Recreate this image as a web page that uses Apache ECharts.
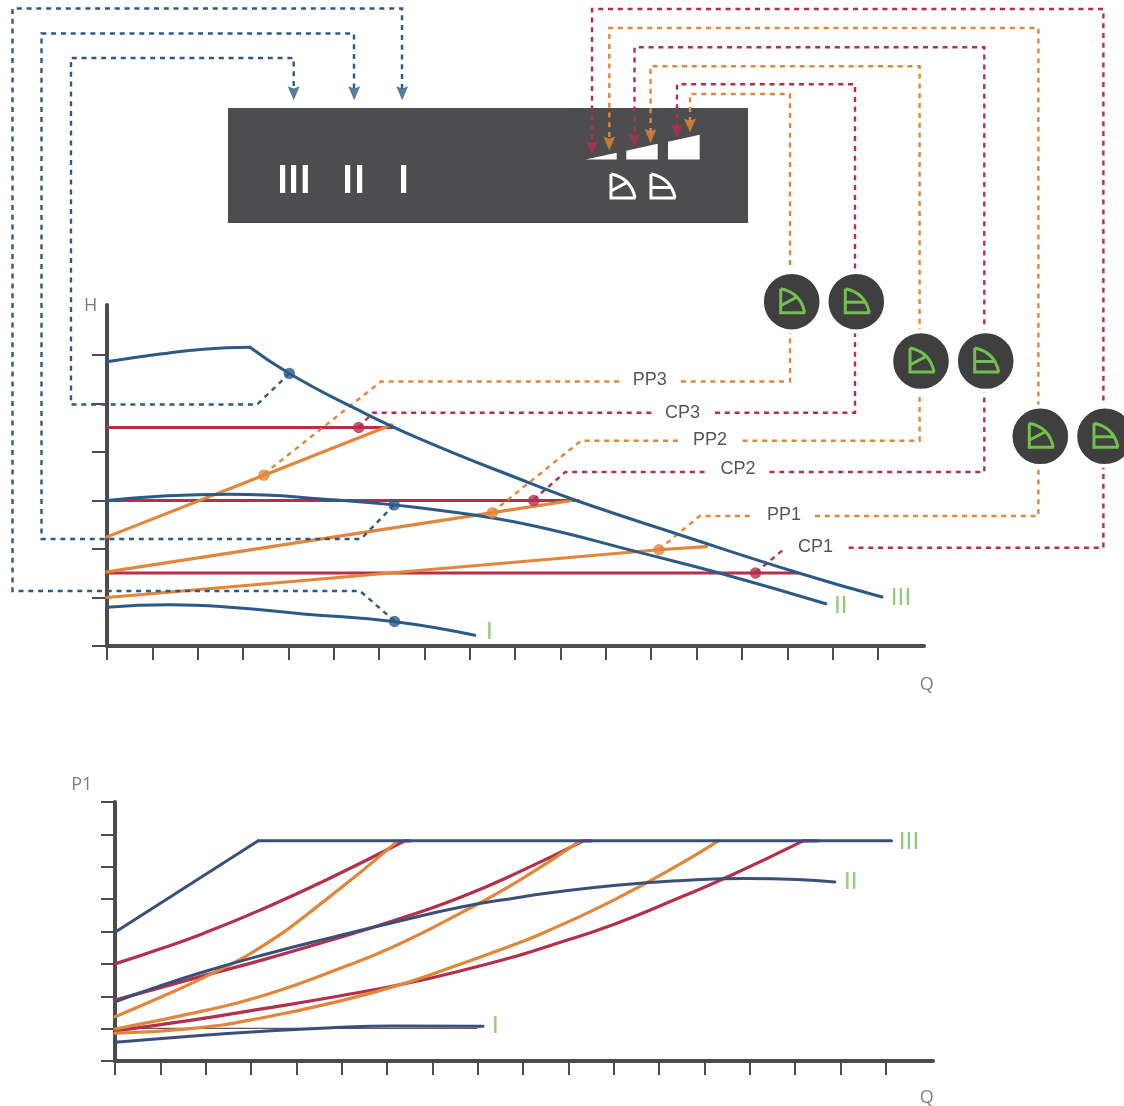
<!DOCTYPE html>
<html>
<head>
<meta charset="utf-8">
<style>html,body{margin:0;padding:0;background:#fff}#c{width:1124px;height:1106px}</style>
<script src="https://cdn.jsdelivr.net/npm/echarts@6/dist/echarts.min.js"></script>
</head>
<body>
<div id="c"></div>
<script>
// ---- H(Q) chart values (axis units) ----
const hTicksQ = [0,1,2,3,4,5,6,7,8,9,10,11,12,13,14,15,16,17];
const hTicksH = [0,1,2,3,4,5,6];
const hIIIFlat = [[0,5.86],[1.17,6.02],[2.12,6.12],[3.15,6.16]];
const hIIIDrop = [[3.15,6.16],[4.02,5.62],[5.36,4.95],[6.90,4.27],[9.35,3.35],[10.41,2.98],[12.54,2.32],[15.27,1.50],[17.09,1.01]];
const hII = [[0,3.00],[1.17,3.09],[2.71,3.13],[5.07,3.01],[6.33,2.91],[8.02,2.71],[9.50,2.46],[11.78,1.92],[13.52,1.50],[15.85,0.87]];
const hI = [[0,0.80],[1.39,0.85],[2.86,0.79],[4.32,0.66],[6.35,0.50],[8.11,0.22]];
const hCP3 = [[0,4.505],[6.35,4.505]];
const hCP2 = [[0,3.0],[10.39,3.0]];
const hCP1 = [[0,1.505],[15.24,1.505]];
const hPP3 = [[0,2.25],[3.46,3.52],[6.28,4.56]];
const hPP2 = [[0,1.53],[8.50,2.75],[10.25,3.0]];
const hPP1 = [[0,1.0],[12.17,1.985],[13.22,2.05]];
const hBluePoints = [[4.02,5.62],[6.33,2.91],[6.34,0.505]];
const hRedPoints = [[5.55,4.505],[9.41,3.0],[14.30,1.505]];
const hOrangePoints = [[3.46,3.52],[8.50,2.75],[12.17,1.985]];

// ---- P1(Q) chart values (axis units) ----
const pTicksQ = [0,1,2,3,4,5,6,7,8,9,10,11,12,13,14,15,16,17];
const pTicksP = [0,1,2,3,4,5,6,7,8];
const pIIIRise = [[0,3.98],[3.16,6.80]];
const pIIIFlat = [[3.16,6.80],[17.13,6.80]];
const pII = [[0,1.83],[0.99,2.32],[2.02,2.78],[3.2,3.25],[4.67,3.78],[6.14,4.28],[7.61,4.75],[8.93,5.06],[9.52,5.18],[11.0,5.42],[12.46,5.57],[13.94,5.64],[15.04,5.61],[15.88,5.53]];
const pI = [[0,0.58],[1.73,0.77],[3.2,0.91],[4.67,1.02],[6.14,1.08],[8.12,1.07]];
const pThin = [[0,1.01],[7.99,1.01]];
const pCP3 = [[0,3.0],[0.99,3.46],[1.95,3.94],[3.2,4.66],[4.67,5.60],[6.36,6.78]];
const pCP3End = [[6.36,6.80],[6.51,6.80]];
const pPP3 = [[0,1.37],[0.99,1.96],[2.02,2.62],[3.2,3.50],[4.67,5.0],[6.24,6.80]];
const pCP2 = [[0,1.88],[2.02,2.66],[3.2,3.10],[4.67,3.70],[6.14,4.33],[7.61,5.05],[8.93,5.85],[10.33,6.80]];
const pCP2End = [[10.33,6.80],[10.52,6.80]];
const pPP2 = [[0,0.99],[1.95,1.55],[3.2,1.99],[4.96,2.86],[6.14,3.53],[7.61,4.56],[8.93,5.59],[10.26,6.80]];
const pCP1 = [[0,0.93],[1.73,1.27],[3.2,1.60],[5.04,2.03],[6.44,2.40],[7.61,2.78],[8.93,3.27],[9.52,3.53],[11.0,4.22],[12.46,5.05],[13.57,5.72],[15.18,6.80]];
const pCP1End = [[15.18,6.80],[15.5,6.80]];
const pPP1 = [[0,0.86],[1.73,1.01],[3.2,1.32],[5.04,1.88],[6.44,2.42],[7.61,2.99],[8.93,3.66],[9.52,4.0],[11.0,4.97],[12.46,6.08],[13.31,6.80]];

// ---- annotation routes on the page ----
const routeBlueI = [[394.5,621],[360,591],[12.5,591],[12.5,8.5],[402,8.5],[402,90]];
const routeBlueII = [[394,505],[361,539],[41.5,539],[41.5,33.5],[354,33.5],[354,90]];
const routeBlueIII = [[289.5,373.5],[257,404.5],[71,404.5],[71,58],[293.7,58],[293.7,90]];
const routePP3a = [[264,474],[381,381.5],[619,381.5]];
const routePP3b = [[681,381.5],[790,381.5],[790,94],[690,94],[690,122]];
const routeCP3a = [[358.5,427.5],[373,412.7],[653,412.7]];
const routeCP3b = [[715,412.7],[855,412.7],[855,84.3],[677,84.3],[677,128]];
const routePP2a = [[492.3,512.3],[581,440.7],[680.6,440.7]];
const routePP2b = [[742.6,440.7],[919.6,440.7],[919.6,66.3],[650.6,66.3],[650.6,133]];
const routeCP2a = [[533.6,499.7],[565.3,472],[706.5,472]];
const routeCP2b = [[769.5,472],[984.3,472],[984.3,47.3],[634.5,47.3],[634.5,137]];
const routePP1a = [[659,549.7],[699.6,516],[752,516]];
const routePP1b = [[815,516],[1038.4,516],[1038.4,28],[609.3,28],[609.3,140]];
const routeCP1a = [[755.7,572.7],[785.7,547.7]];
const routeCP1b = [[848.7,547.7],[1103.4,547.7],[1103.4,9],[592,9],[592,144]];
const arrowsBlue = [[293.7,93.3],[354.2,93.3],[402.2,93.3]];
const arrowsRed = [[592,148],[634.5,140.3],[677,131.3]];
const arrowsOrange = [[609.3,143.5],[650.6,136],[690,125.5]];

const routeLabels = [['PP3',649.7,380.5],['CP3',682.4,413.5],['PP2',710,440.5],['CP2',738,469.5],['PP1',784,515.5],['CP1',815.6,547.5]];
const axisLabels = [['H',90.7,305.5],['Q',926.8,684.5],['P1',81.7,784.5],['Q',926.8,1097.5]];
const curveLabels = [['I',489.5,633],['II',840.8,607],['III',901,599.5],['I',495.3,1027],['II',850.8,883],['III',909,843]];

const BLUE='#2c5a87', NAVY='#3b5079', RED='#b42f49', ORANGE='#e1863a', AXIS='#4d4b4b', GREEN='#74c04f', WHITE='#ffffff';

function line(data,color,width,xi,smooth,z){
  return {type:'line',data,xAxisIndex:xi,yAxisIndex:xi,smooth:smooth?0.5:false,showSymbol:false,symbol:'none',clip:false,silent:true,z:z||2,
    lineStyle:{color,width,cap:'round',join:'round'}};
}
function dots(data,color){
  return {type:'scatter',data,xAxisIndex:0,yAxisIndex:0,symbol:'circle',symbolSize:11.5,clip:false,silent:true,z:6,itemStyle:{color}};
}
function route(data,color){
  return {type:'line',data,xAxisIndex:2,yAxisIndex:2,showSymbol:false,symbol:'none',clip:false,silent:true,z:3,
    lineStyle:{color,width:2.4,type:[5,4.8],cap:'butt',join:'miter'}};
}
function arrows(data,color){
  return {type:'scatter',data,xAxisIndex:2,yAxisIndex:2,symbol:'path://M0 0 L5 2 L10 0 L5 13 Z',symbolSize:[12,14],clip:false,silent:true,z:4,itemStyle:{color}};
}
function texts(rows,color,size,family){
  return {type:'scatter',data:rows.map(r=>({value:[r[1],r[2]],name:r[0]})),xAxisIndex:2,yAxisIndex:2,symbolSize:0,clip:false,silent:true,z:7,
    label:{show:true,position:'inside',formatter:p=>p.name,color,fontSize:size,fontFamily:family,align:'center',verticalAlign:'middle'}};
}

function axis(common){return Object.assign({type:'value',splitLine:{show:false},axisLabel:{show:false},z:1},common);}
const axisLine={show:true,onZero:false,lineStyle:{color:AXIS,width:4,cap:'round'}};
function ticks(values,len){return {show:true,length:len,customValues:values,lineStyle:{color:AXIS,width:2}};}

const lineSeries=[
  // H chart
  line(hCP3,RED,3.2,0), line(hCP2,RED,3.2,0), line(hCP1,RED,3.2,0),
  line(hPP3,ORANGE,3.2,0), line(hPP2,ORANGE,3.2,0), line(hPP1,ORANGE,3.2,0),
  line(hI,BLUE,3,0,true,5), line(hII,BLUE,3,0,true,5), line(hIIIFlat,BLUE,3,0,true,5), line(hIIIDrop,BLUE,3,0,true,5),
  dots(hOrangePoints,ORANGE), dots(hRedPoints,RED), dots(hBluePoints,BLUE),
  // P1 chart
  line(pThin,'#333333',1,1),
  line(pCP3,RED,3.2,1,true), line(pCP3End,RED,3.2,1), line(pCP2,RED,3.2,1,true), line(pCP2End,RED,3.2,1), line(pCP1,RED,3.2,1,true), line(pCP1End,RED,3.2,1),
  line(pPP3,ORANGE,3.2,1,true), line(pPP2,ORANGE,3.2,1,true), line(pPP1,ORANGE,3.2,1,true),
  line(pI,NAVY,3,1,true,5), line(pII,NAVY,3,1,true,5), line(pIIIRise,NAVY,3,1,false,5), line(pIIIFlat,NAVY,3,1,false,5),
  // routes
  route(routeBlueI,BLUE), route(routeBlueII,BLUE), route(routeBlueIII,BLUE),
  route(routePP3a,ORANGE), route(routePP3b,ORANGE), route(routePP2a,ORANGE), route(routePP2b,ORANGE), route(routePP1a,ORANGE), route(routePP1b,ORANGE),
  route(routeCP3a,RED), route(routeCP3b,RED), route(routeCP2a,RED), route(routeCP2b,RED), route(routeCP1a,RED), route(routeCP1b,RED),
  arrows(arrowsBlue,BLUE), arrows(arrowsRed,RED), arrows(arrowsOrange,ORANGE),
  texts(routeLabels,'#2a2a2a',18,'"Liberation Sans"'),
  texts(axisLabels,'#5f5f5f',18,'"Open Sans"'),
  texts(curveLabels,GREEN,23,'"DejaVu Sans"')
];

// ---- panel and knob decoration ----
function modeIcon(cx,cy,kind,color,z){
  const inner = kind==='pp' ? [[-11,4],[5,-4.6]] : [[-11,0.5],[9.5,0.5]];
  const style={stroke:color,lineWidth:3,fill:null};
  return {type:'group',x:cx,y:cy,z,children:[
    {type:'polyline',z,shape:{points:[[-11,-13],[-11,11],[13.5,11]]},style},
    {type:'bezierCurve',z,shape:{x1:-11,y1:-13,x2:13,y2:11,cpx1:9,cpy1:-9},style},
    {type:'polyline',z,shape:{points:inner},style}
  ]};
}
function knob(cx,cy,kind){
  return [{type:'circle',z:20,shape:{cx,cy,r:29.8},style:{fill:'#3f3f3f',stroke:'#ffffff',lineWidth:4}},modeIcon(cx,cy,kind,GREEN,21)];
}
function bar(x){return {type:'rect',z:1,shape:{x,y:165,width:5.2,height:28},style:{fill:WHITE}};}
function ramp(points){return {type:'polygon',z:1,shape:{points},style:{fill:WHITE}};}

const graphics=[
  {type:'rect',z:0,shape:{x:228,y:108,width:520,height:115},style:{fill:'#4d4d4f'}},
  bar(280),bar(291),bar(302.7),bar(345),bar(357),bar(401),
  ramp([[585.7,159.5],[616.7,152.7],[616.7,159.5]]),
  ramp([[626.3,150.7],[657.7,143.7],[657.7,159.5],[626.3,159.5]]),
  ramp([[668,141.7],[699.7,134.7],[699.7,159.5],[668,159.5]]),
  modeIcon(622,187,'pp',WHITE,1), modeIcon(662,187,'cp',WHITE,1),
  ...knob(791.7,301.7,'pp'),...knob(856.3,301.7,'cp'),
  ...knob(921,361,'pp'),...knob(985.7,361,'cp'),
  ...knob(1040.3,436.3,'pp'),...knob(1105,436.3,'cp')
];

const chart=echarts.init(document.getElementById('c'));
chart.setOption({
  animation:false,
  backgroundColor:'#ffffff',
  graphic:{elements:graphics},
  grid:[
    {left:107,top:305,width:817,height:341,containLabel:false},
    {left:115,top:802,width:818,height:259,containLabel:false},
    {left:0,top:0,width:1124,height:1106,containLabel:false}
  ],
  xAxis:[
    axis({gridIndex:0,min:0,max:18.015,axisLine,axisTick:ticks(hTicksQ,14)}),
    axis({gridIndex:1,min:0,max:18.045,axisLine,axisTick:ticks(pTicksQ,14)}),
    axis({gridIndex:2,min:0,max:1124,show:false})
  ],
  yAxis:[
    axis({gridIndex:0,min:0,max:7.031,axisLine,axisTick:ticks(hTicksH,15)}),
    axis({gridIndex:1,min:0,max:8.0,axisLine,axisTick:ticks(pTicksP,14)}),
    axis({gridIndex:2,min:0,max:1106,inverse:true,show:false})
  ],
  series:lineSeries
});
</script>
</body>
</html>
